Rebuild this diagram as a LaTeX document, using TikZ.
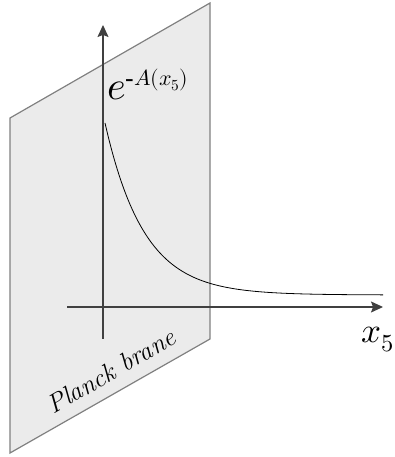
\documentclass[tikz,border=0pt]{standalone}
\usepackage{unicode-math}
\usetikzlibrary{arrows.meta}
\begin{document}
\begin{tikzpicture}[
      x=1pt,
      y=1pt,
      declare function = {
          a = 172; k = 39; b = 162;
        },
      brane/.style={draw=black!50,fill=black!8,line width=1.2pt},
      axis/.style={draw=black!75,line width=1.1pt,-{Stealth[length=12pt,width=11pt,inset=2pt]}}
    ]
    \useasboundingbox (0,0) rectangle (394,457);

    % the brane
    \coordinate (tl) at (10,339);
    \coordinate (tr) at (210,454);
    \coordinate (br) at (210,118);
    \coordinate (bl) at (10,4);
    \draw[brane] (tl) -- (tr) -- (br) -- (bl) -- cycle;

    % axes
    \coordinate (v0) at (103,118);
    \coordinate (v1) at (103,432);
    \coordinate (h0) at (67,150);
    \coordinate (h1) at (383,150);
    \draw[axis] (v0) -- (v1);
    \draw[axis] (h0) -- (h1);

    % warp factor
    \draw[line width=0.8pt] plot[domain=105:383,samples=80,smooth]
    (\x,{b+a*exp(-(\x-105)/k)});

    \node[anchor=base west,inner sep=0pt] (warp) at (107,357)
    {\fontsize{40}{40}\selectfont $e^{\mbox{\fontsize{22}{22}\selectfont \textbf{-}$A(x_5)$}}$};
    \node[anchor=base west,inner sep=0pt] (x5) at (361,114)
    {\fontsize{35}{35}\selectfont $x_5$};
    \node[rotate=30,inner sep=0pt] (planck) at (111,86)
    {\fontsize{26}{26}\selectfont\itshape Planck brane};
  \end{tikzpicture}
\end{document}
